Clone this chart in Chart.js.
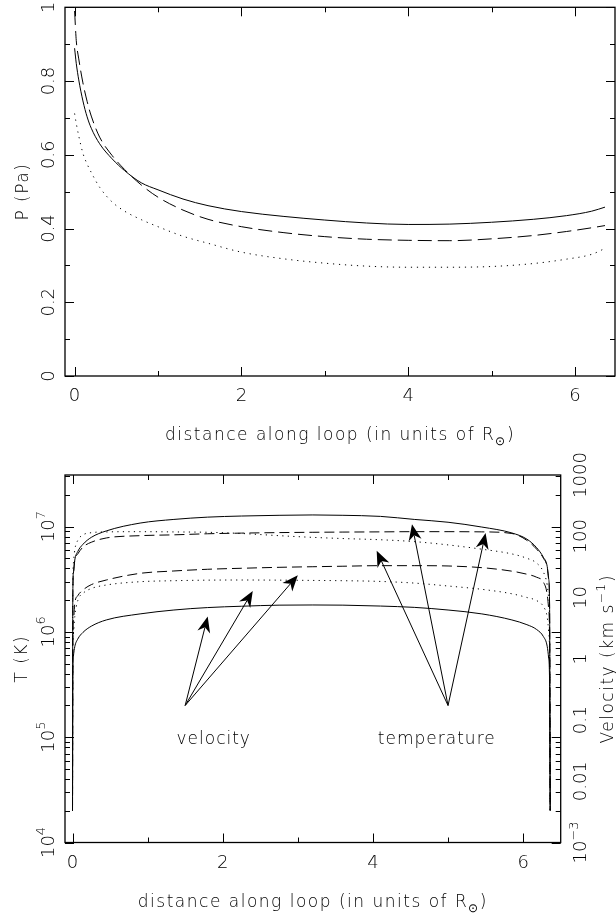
<!DOCTYPE html>
<html>
<head>
<meta charset="utf-8">
<script src="https://cdn.jsdelivr.net/npm/chart.js@4/dist/chart.umd.min.js"></script>
<style>
  html, body { margin: 0; padding: 0; background: #fff; }
  #wrap { position: relative; width: 616px; height: 917px; }
  canvas { position: absolute; left: 0; }
  #pressure { top: 0; }
  #profiles { top: 450px; }
</style>
</head>
<body>
<div id="wrap">
  <canvas id="pressure" width="616" height="450"></canvas>
  <canvas id="profiles" width="616" height="467"></canvas>
</div>
<script>
// pressure along the loop (Pa), three models
const pX      = [0, 0.02, 0.05, 0.1, 0.15, 0.2, 0.3, 0.45, 0.6, 0.8, 1.0, 1.3, 1.6, 2.0, 2.5, 3.0, 3.5, 4.0, 4.5, 5.0, 5.5, 5.9, 6.2, 6.36];
const pSolid  = [0.889, 0.848, 0.803, 0.746, 0.703, 0.672, 0.630, 0.589, 0.557, 0.524, 0.505, 0.480, 0.462, 0.446, 0.433, 0.423, 0.415, 0.411, 0.412, 0.417, 0.425, 0.435, 0.447, 0.458];
const pDashed = [0.99, 0.91, 0.86, 0.795, 0.745, 0.705, 0.648, 0.598, 0.56, 0.518, 0.485, 0.45, 0.425, 0.405, 0.389, 0.378, 0.371, 0.368, 0.367, 0.372, 0.381, 0.392, 0.402, 0.408];
const pDotted = [0.712, 0.685, 0.651, 0.604, 0.575, 0.552, 0.512, 0.472, 0.447, 0.424, 0.405, 0.379, 0.36, 0.336, 0.318, 0.306, 0.298, 0.295, 0.295, 0.297, 0.305, 0.317, 0.330, 0.346];

// temperature (K) and flow velocity (km/s) along the loop
const sX      = [0, 0.004, 0.012, 0.03, 0.07, 0.14, 0.25, 0.45, 0.9, 1.35, 1.8, 2.25, 2.75, 3.2, 3.6, 4.1, 4.55, 5.0, 5.45, 5.85, 6.05, 6.18, 6.27, 6.32, 6.34, 6.352, 6.36];
const tSolid  = [2.0e4, 2.2e6, 3.6e6, 4.8e6, 5.8e6, 6.8e6, 7.9e6, 9.1e6, 1.08e7, 1.17e7, 1.23e7, 1.26e7, 1.28e7, 1.29e7, 1.28e7, 1.25e7, 1.17e7, 1.10e7, 9.9e6, 8.7e6, 7.6e6, 6.3e6, 5.1e6, 4.2e6, 3.2e6, 1.8e6, 2.0e4];
const tDashed = [2.0e4, 2.0e6, 3.55e6, 4.8e6, 5.5e6, 6.4e6, 7.1e6, 7.8e6, 8.2e6, 8.35e6, 8.55e6, 8.67e6, 8.77e6, 8.83e6, 8.87e6, 8.91e6, 8.95e6, 8.95e6, 8.91e6, 8.6e6, 7.4e6, 6.1e6, 5.0e6, 4.1e6, 3.1e6, 1.75e6, 2.0e4];
const tDotted = [2.0e4, 2.5e6, 4.5e6, 6.0e6, 7.4e6, 8.35e6, 8.75e6, 8.9e6, 8.95e6, 8.9e6, 8.83e6, 8.6e6, 8.2e6, 7.9e6, 7.7e6, 7.5e6, 7.2e6, 6.7e6, 6.1e6, 5.5e6, 5.0e6, 4.5e6, 3.7e6, 2.8e6, 2.1e6, 1.26e6, 2.0e4];
const vSolid  = [0.0034, 0.5, 1.1, 1.57, 2.1, 2.7, 3.4, 4.3, 5.4, 6.25, 6.85, 7.2, 7.5, 7.55, 7.5, 7.25, 6.9, 6.25, 5.4, 4.3, 3.6, 3.0, 2.3, 1.6, 1.0, 0.4, 0.0034];
const vDashed = [0.0034, 2.0, 4.0, 8.0, 10.7, 13.3, 16.2, 19.3, 24.8, 27.1, 28.9, 30.0, 31.1, 31.8, 32.4, 33.1, 33.1, 32.7, 30.7, 26.9, 24.0, 21.4, 17.8, 11.2, 6.3, 2.0, 0.0034];
const vDotted = [0.0034, 1.26, 2.5, 4.85, 8.9, 11.7, 14.0, 16.0, 18.1, 18.8, 19.2, 19.3, 19.2, 19.0, 18.8, 18.3, 17.2, 15.4, 13.6, 11.5, 10.0, 8.9, 7.1, 4.8, 2.8, 1.0, 0.0034];

// tick values
const xMajor = [0, 2, 4, 6];
const xMinor = [1, 3, 5];
const pMajor = [0, 0.2, 0.4, 0.6, 0.8, 1];
const pMinor = [0.1, 0.3, 0.5, 0.7, 0.9];
const tDecades = [4, 5, 6, 7];
const vLabels = ['1000', '100', '10', '1', '0.1', '0.01'];
const vValues = [1000, 100, 10, 1, 0.1, 0.01];

// annotation arrows (tail, tips) in data units
const velocityTail = [1.5, 2.0e5];
const velocityTips = [[1.8, 1.4e6], [2.4, 2.45e6], [3.0, 3.45e6]];
const temperatureTail = [5.0, 2.0e5];
const temperatureTips = [[4.05, 5.9e6], [4.52, 1.05e7], [5.5, 8.7e6]];
const noteText = ['velocity', 'temperature'];
const noteX = [1.88, 4.85];
const noteT = [8.7e4, 8.7e4];

const FONT = '"DejaVu Sans", "Liberation Sans", sans-serif';
const INK = '#000';

function pts(xs, ys) {
  return xs.map((x, i) => ({ x: x, y: ys[i] }));
}

function line(data, dash, axis) {
  return {
    data: data,
    borderColor: INK,
    borderWidth: 1,
    borderDash: dash,
    pointRadius: 0,
    fill: false,
    cubicInterpolationMode: 'monotone',
    yAxisID: axis || 'y'
  };
}

function setFont(ctx, size, spacing) {
  ctx.font = '200 ' + size + 'px ' + FONT;
  ctx.letterSpacing = (spacing || 0) + 'px';
}

// text made of parts, some raised (sup) or lowered (sub), centred on x
function rich(ctx, parts, x, y, size, spacing) {
  let total = 0;
  const widths = parts.map(p => {
    setFont(ctx, p.s ? size * 0.72 : size, spacing);
    const w = ctx.measureText(p.t).width;
    total += w;
    return w;
  });
  let cx = x - total / 2;
  ctx.textAlign = 'left';
  ctx.textBaseline = 'alphabetic';
  parts.forEach((p, i) => {
    setFont(ctx, p.s ? size * 0.72 : size, spacing);
    const dy = p.s === 'sup' ? -size * 0.45 : (p.s === 'sub' ? size * 0.3 : 0);
    ctx.fillText(p.t, cx, y + dy);
    cx += widths[i];
  });
}

function richUp(ctx, parts, x, y, size, spacing) {
  ctx.save();
  ctx.translate(x, y);
  ctx.rotate(-Math.PI / 2);
  rich(ctx, parts, 0, 0, size, spacing);
  ctx.restore();
}

function frame(ctx, a) {
  ctx.lineWidth = 1.3;
  ctx.strokeRect(a.left, a.top, a.right - a.left, a.bottom - a.top);
  ctx.lineWidth = 1;
}

function ticksX(ctx, scale, a, values, len) {
  values.forEach(v => {
    if (v < scale.min || v > scale.max) return;
    const p = Math.round(scale.getPixelForValue(v)) + 0.5;
    ctx.beginPath();
    ctx.moveTo(p, a.bottom); ctx.lineTo(p, a.bottom - len);
    ctx.moveTo(p, a.top); ctx.lineTo(p, a.top + len);
    ctx.stroke();
  });
}

function ticksY(ctx, scale, a, values, len) {
  values.forEach(v => {
    if (v < scale.min || v > scale.max) return;
    const p = Math.round(scale.getPixelForValue(v)) + 0.5;
    ctx.beginPath();
    ctx.moveTo(a.left, p); ctx.lineTo(a.left + len, p);
    ctx.moveTo(a.right, p); ctx.lineTo(a.right - len, p);
    ctx.stroke();
  });
}

function xLabels(ctx, scale, a) {
  xMajor.forEach(v => rich(ctx, [{ t: String(v) }], scale.getPixelForValue(v), a.bottom + 25, 18));
}

function xTitle(ctx, a) {
  rich(ctx, [{ t: 'distance along loop (in units of R' }, { t: '\u2299', s: 'sub' }, { t: ')' }],
    (a.left + a.right) / 2, a.bottom + 64, 17, 1.5);
}

function arrow(ctx, x0, y0, x1, y1) {
  const dx = x1 - x0, dy = y1 - y0;
  const d = Math.hypot(dx, dy);
  const ux = dx / d, uy = dy / d;
  const L = 16, W = 6.5;
  const bx = x1 - ux * L, by = y1 - uy * L;
  const nx = x1 - ux * L * 0.7, ny = y1 - uy * L * 0.7;
  ctx.beginPath();
  ctx.moveTo(x0, y0);
  ctx.lineTo(nx, ny);
  ctx.stroke();
  ctx.beginPath();
  ctx.moveTo(x1, y1);
  ctx.lineTo(bx - uy * W, by + ux * W);
  ctx.lineTo(nx, ny);
  ctx.lineTo(bx + uy * W, by - ux * W);
  ctx.closePath();
  ctx.fill();
}

const pressureAxes = {
  id: 'pressureAxes',
  afterDraw(chart) {
    const { ctx, chartArea: a, scales: { x, y } } = chart;
    ctx.save();
    ctx.strokeStyle = INK;
    ctx.fillStyle = INK;
    frame(ctx, a);
    ticksX(ctx, x, a, xMajor, 9);
    ticksX(ctx, x, a, xMinor, 5);
    ticksY(ctx, y, a, pMajor, 9);
    ticksY(ctx, y, a, pMinor, 5);
    xLabels(ctx, x, a);
    pMajor.forEach(v => richUp(ctx, [{ t: String(v) }], a.left - 11.5, y.getPixelForValue(v), 18));
    richUp(ctx, [{ t: 'P (Pa)' }], a.left - 37.5, (a.top + a.bottom) / 2, 17, 1.5);
    xTitle(ctx, a);
    ctx.restore();
  }
};

const profileAxes = {
  id: 'profileAxes',
  afterDraw(chart) {
    const { ctx, chartArea: a, scales: { x, y, y2 } } = chart;
    ctx.save();
    ctx.strokeStyle = INK;
    ctx.fillStyle = INK;
    frame(ctx, a);
    ticksX(ctx, x, a, xMajor, 9);
    ticksX(ctx, x, a, xMinor, 5);
    const major = tDecades.map(e => Math.pow(10, e));
    const minor = [];
    tDecades.forEach(e => { for (let k = 2; k <= 9; k++) minor.push(k * Math.pow(10, e)); });
    ticksY(ctx, y, a, major, 9);
    ticksY(ctx, y, a, minor, 5);
    xLabels(ctx, x, a);
    tDecades.forEach(e => richUp(ctx, [{ t: '10' }, { t: String(e), s: 'sup' }], a.left - 11.5, y.getPixelForValue(Math.pow(10, e)), 18));
    richUp(ctx, [{ t: 'T (K)' }], a.left - 38, (a.top + a.bottom) / 2, 17, 1.5);
    vValues.forEach((v, i) => richUp(ctx, [{ t: vLabels[i] }], a.right + 25, y2.getPixelForValue(v), 18));
    richUp(ctx, [{ t: '10' }, { t: '\u22123', s: 'sup' }], a.right + 25, y2.getPixelForValue(0.001), 18);
    richUp(ctx, [{ t: 'Velocity (km s' }, { t: '\u22121', s: 'sup' }, { t: ')' }], a.right + 52, (a.top + a.bottom) / 2, 17, 1.5);
    xTitle(ctx, a);

    // arrows pointing at the velocity and temperature curves
    ctx.lineWidth = 1;
    [[velocityTail, velocityTips], [temperatureTail, temperatureTips]].forEach(([tail, tips]) => {
      const x0 = x.getPixelForValue(tail[0]), y0 = y.getPixelForValue(tail[1]);
      tips.forEach(t => arrow(ctx, x0, y0, x.getPixelForValue(t[0]), y.getPixelForValue(t[1])));
    });
    noteText.forEach((s, i) => rich(ctx, [{ t: s }], x.getPixelForValue(noteX[i]), y.getPixelForValue(noteT[i]), 17, 1));
    ctx.restore();
  }
};

const common = {
  responsive: false,
  animation: false,
  devicePixelRatio: 1,
  events: [],
  plugins: { legend: { display: false }, tooltip: { enabled: false } }
};

new Chart(document.getElementById('pressure').getContext('2d'), {
  type: 'line',
  data: {
    datasets: [
      line(pts(pX, pSolid), []),
      line(pts(pX, pDashed), [14, 6]),
      line(pts(pX, pDotted), [1.2, 4.8])
    ]
  },
  options: Object.assign({}, common, {
    layout: { padding: { left: 65, right: 1, top: 7.3, bottom: 74 } },
    scales: {
      x: { type: 'linear', min: -0.115, max: 6.48, display: false },
      y: { type: 'linear', min: 0, max: 1, display: false }
    }
  }),
  plugins: [pressureAxes]
});

new Chart(document.getElementById('profiles').getContext('2d'), {
  type: 'line',
  data: {
    datasets: [
      line(pts(sX, tSolid), []),
      line(pts(sX, tDashed), [10, 5]),
      line(pts(sX, tDotted), [1.2, 4.3]),
      line(pts(sX, vSolid), [], 'y2'),
      line(pts(sX, vDashed), [10, 5], 'y2'),
      line(pts(sX, vDotted), [1.2, 4.3], 'y2')
    ]
  },
  options: Object.assign({}, common, {
    layout: { padding: { left: 65, right: 55.3, top: 25, bottom: 74.5 } },
    scales: {
      x: { type: 'linear', min: -0.1, max: 6.5, display: false },
      y: { type: 'logarithmic', min: 1e4, max: 3.09e7, display: false },
      y2: { type: 'logarithmic', position: 'right', min: 1e-3, max: 1e3, display: false }
    }
  }),
  plugins: [profileAxes]
});
</script>
</body>
</html>
